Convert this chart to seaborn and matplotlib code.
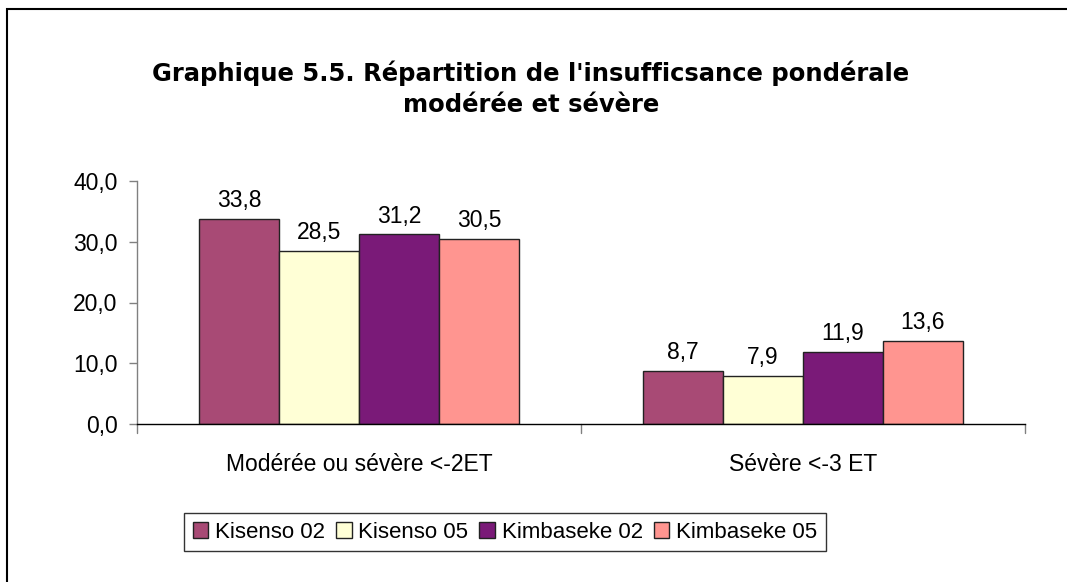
import matplotlib
matplotlib.use("Agg")
import matplotlib.pyplot as plt
import seaborn as sns
import pandas as pd
from matplotlib.patches import Rectangle

categories = ["Modérée ou sévère <-2ET", "Sévère <-3 ET"]
series = ["Kisenso 02", "Kisenso 05", "Kimbaseke 02", "Kimbaseke 05"]
kisenso_02 = [33.8, 8.7]
kisenso_05 = [28.5, 7.9]
kimbaseke_02 = [31.2, 11.9]
kimbaseke_05 = [30.5, 13.6]
colors = ["#A84A75", "#FFFFD6", "#7A1A78", "#FF9590"]
yticks = [0, 10, 20, 30, 40]

rows = []
for s, vals in zip(series, [kisenso_02, kisenso_05, kimbaseke_02, kimbaseke_05]):
    for c, v in zip(categories, vals):
        rows.append({"cat": c, "serie": s, "val": v})
df = pd.DataFrame(rows)

sns.set_theme(style="white")
plt.rcParams["font.family"] = ["Liberation Sans", "DejaVu Sans"]
plt.rcParams["text.color"] = "black"
FS = 16.5

fig = plt.figure(figsize=(10.67, 5.82), dpi=100)
ax = fig.add_axes([137/1067, 1-424/582, (1025-137)/1067, (424-181)/582])

sns.barplot(data=df, x="cat", y="val", hue="serie", order=categories,
            hue_order=series, palette=colors, width=0.72, ax=ax,
            edgecolor="#222222", linewidth=1.0, saturation=1, legend=True)

for cont in ax.containers:
    labels = [f"{b.get_height():.1f}".replace(".", ",") for b in cont]
    ax.bar_label(cont, labels=labels, padding=5, fontsize=FS, color="black")

ax.set_xlim(-0.5, 1.5)
ax.set_ylim(0, 40)
ax.set_yticks(yticks)
ax.set_yticklabels([f"{t:.1f}".replace(".", ",") for t in yticks], fontsize=FS, color="black")
ax.set_xticks([0, 1])
ax.set_xticklabels(categories, fontsize=FS, color="black")
ax.tick_params(axis="x", length=0, pad=21)
ax.tick_params(axis="y", length=6, color="#808080", width=1, pad=8, left=True)
for x in [-0.5, 0.5, 1.5]:
    ax.plot([x, x], [0, -0.035], transform=ax.get_xaxis_transform(),
            color="#808080", lw=1, clip_on=False)
ax.set_xlabel("")
ax.set_ylabel("")
for s in ["top", "right"]:
    ax.spines[s].set_visible(False)
ax.spines["left"].set_color("#808080")
ax.spines["left"].set_linewidth(1)
ax.spines["bottom"].set_color("black")
ax.spines["bottom"].set_linewidth(1)

handles, labs = ax.get_legend_handles_labels()
ax.get_legend().remove()
leg = fig.legend(handles, labs, loc="center", ncol=4,
                 bbox_to_anchor=(505/1067, 1-532/582), fontsize=16,
                 frameon=True, fancybox=False, edgecolor="black",
                 handlelength=0.7, handleheight=0.7, handletextpad=0.3,
                 columnspacing=0.5, borderpad=0.4)
leg.get_frame().set_linewidth(1)
for t in leg.get_texts():
    t.set_color("black")

fig.text(531/1067, 1-81/582, "Graphique 5.5. Répartition de l'insufficsance pondérale",
         ha="center", va="baseline", fontsize=17.5, fontweight="bold",
         color="black", family=["DejaVu Sans"])
fig.text(531/1067, 1-112/582, "modérée et sévère",
         ha="center", va="baseline", fontsize=17.5, fontweight="bold",
         color="black", family=["DejaVu Sans"])

fig.patches.append(Rectangle((7/1067, -0.1), 1.2, 1-9/582+0.1,
                             transform=fig.transFigure, fill=False,
                             edgecolor="black", linewidth=1.5))

fig.savefig("out.png", dpi=100)
